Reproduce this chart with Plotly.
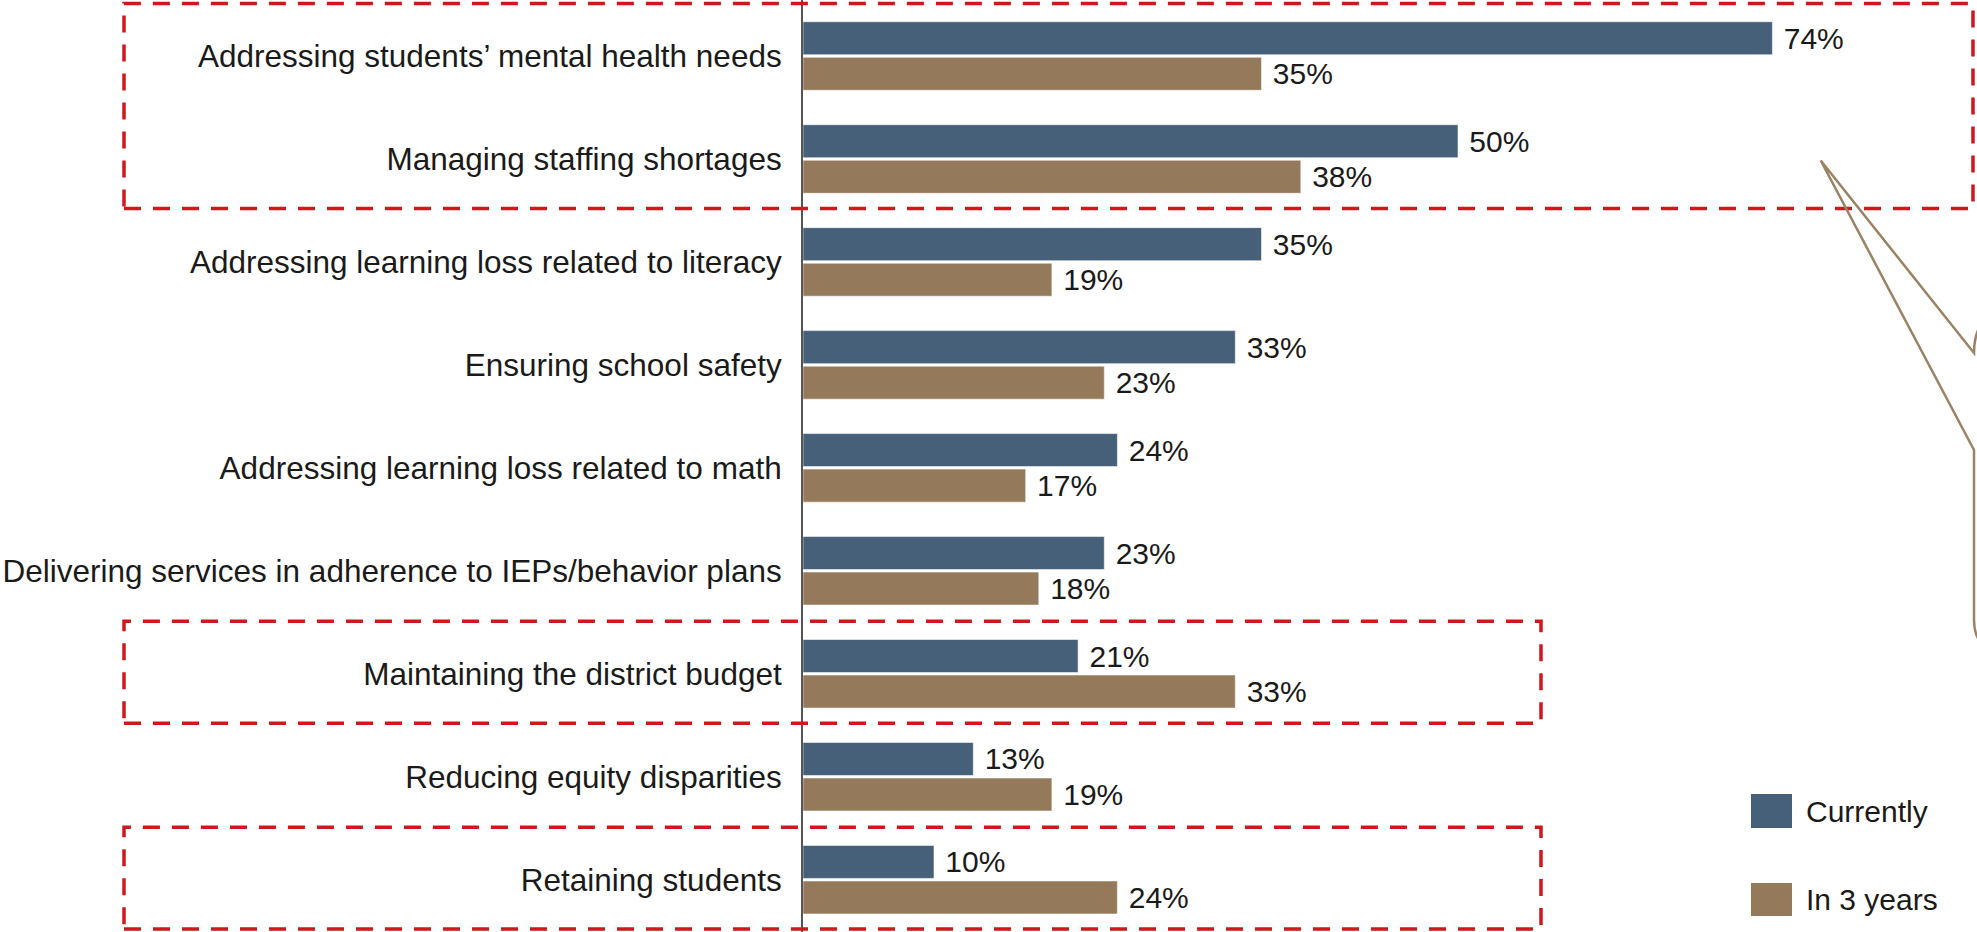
import plotly.graph_objects as go

# ---- data -------------------------------------------------------------
categories = [
    "Addressing students\u2019 mental health needs",
    "Managing staffing shortages",
    "Addressing learning loss related to literacy",
    "Ensuring school safety",
    "Addressing learning loss related to math",
    "Delivering services in adherence to IEPs/behavior plans",
    "Maintaining the district budget",
    "Reducing equity disparities",
    "Retaining students",
]
currently = [74, 50, 35, 33, 24, 23, 21, 13, 10]
in_3_years = [35, 38, 19, 23, 17, 18, 33, 19, 24]
series_names = ["Currently", "In 3 years"]

# categories wrapped in dashed highlight boxes (first index, last index)
highlight_groups = [(0, 1), (6, 6), (8, 8)]

# ---- styling ----------------------------------------------------------
W, H = 1977, 932
BLUE = "#476079"
TAN = "#947a5a"
RED = "#d0171c"
TEXT = "#1a1a1a"
FONT = "Liberation Sans, Arial, sans-serif"

M_LEFT = 803
X_RANGE = [0, (W - M_LEFT) / 13.1]
Y_RANGE = [8.508, -0.544]  # reversed so the first category sits on top


def px_x(px):
    """pixel column -> paper x"""
    return (px - M_LEFT) / (W - M_LEFT)


def px_y(py):
    """pixel row -> paper y"""
    return 1 - py / H


def cat_y(idx):
    """category position -> paper y"""
    return (Y_RANGE[0] - idx) / (Y_RANGE[0] - Y_RANGE[1])


fig = go.Figure()
for name, vals, color in [(series_names[0], currently, BLUE),
                          (series_names[1], in_3_years, TAN)]:
    fig.add_trace(go.Bar(
        name=name,
        y=categories,
        x=vals,
        orientation="h",
        marker=dict(color=color, line=dict(color="rgba(255,255,255,0.55)", width=1)),
        text=[f"\u00a0{v}%" for v in vals],
        textposition="outside",
        constraintext="none",
        cliponaxis=False,
        textfont=dict(family=FONT, size=30, color=TEXT),
        hoverinfo="skip",
        showlegend=False,
    ))

shapes = []

# dashed highlight boxes
box_left, box_right_wide, box_right = px_x(124), px_x(1973), px_x(1541)
for i, (a, b) in enumerate(highlight_groups):
    shapes.append(dict(
        type="rect", xref="paper", yref="paper",
        x0=box_left, x1=box_right_wide if i == 0 else box_right,
        y0=cat_y(b + 0.48), y1=cat_y(a - 0.51),
        line=dict(color=RED, width=3.5, dash="17px,12px"),
        fillcolor="rgba(0,0,0,0)", layer="above",
    ))

# callout pointer reaching in from the right edge
tip = (1820.7, 160.5)
path = (
    f"M {px_x(1980)},{px_y(326)} "
    f"Q {px_x(1974)},{px_y(337)} {px_x(1974)},{px_y(353)} "
    f"L {px_x(tip[0])},{px_y(tip[1])} "
    f"L {px_x(1974)},{px_y(450)} "
    f"L {px_x(1974)},{px_y(620)} "
    f"Q {px_x(1974)},{px_y(633)} {px_x(1980)},{px_y(642)}"
)
shapes.append(dict(type="path", xref="paper", yref="paper", path=path,
                   line=dict(color="#9a8263", width=2.5)))

# legend swatches + labels
annotations = []
for (name, color, top, bottom) in [(series_names[0], BLUE, 794, 828),
                                   (series_names[1], TAN, 883, 916)]:
    shapes.append(dict(type="rect", xref="paper", yref="paper",
                       x0=px_x(1751), x1=px_x(1792), y0=px_y(bottom), y1=px_y(top),
                       fillcolor=color, line=dict(width=0)))
    annotations.append(dict(xref="paper", yref="paper", x=px_x(1804),
                            y=px_y((top + bottom) / 2), text=name, showarrow=False,
                            xanchor="left", yanchor="middle",
                            font=dict(family=FONT, size=30, color=TEXT)))

fig.update_layout(
    width=W, height=H,
    margin=dict(l=M_LEFT, r=0, t=0, b=0),
    paper_bgcolor="white", plot_bgcolor="white",
    barmode="group", bargap=0.31, bargroupgap=0.07,
    showlegend=False,
    shapes=shapes,
    annotations=annotations,
    xaxis=dict(range=X_RANGE, visible=False, fixedrange=True),
    yaxis=dict(
        type="category",
        range=Y_RANGE,
        showline=True, linecolor="#555555", linewidth=2,
        showgrid=False, zeroline=False,
        ticks="outside", ticklen=0, ticklabelstandoff=13,
        tickfont=dict(family=FONT, size=31.5, color=TEXT),
        fixedrange=True,
    ),
)

fig.write_html("out.html")
